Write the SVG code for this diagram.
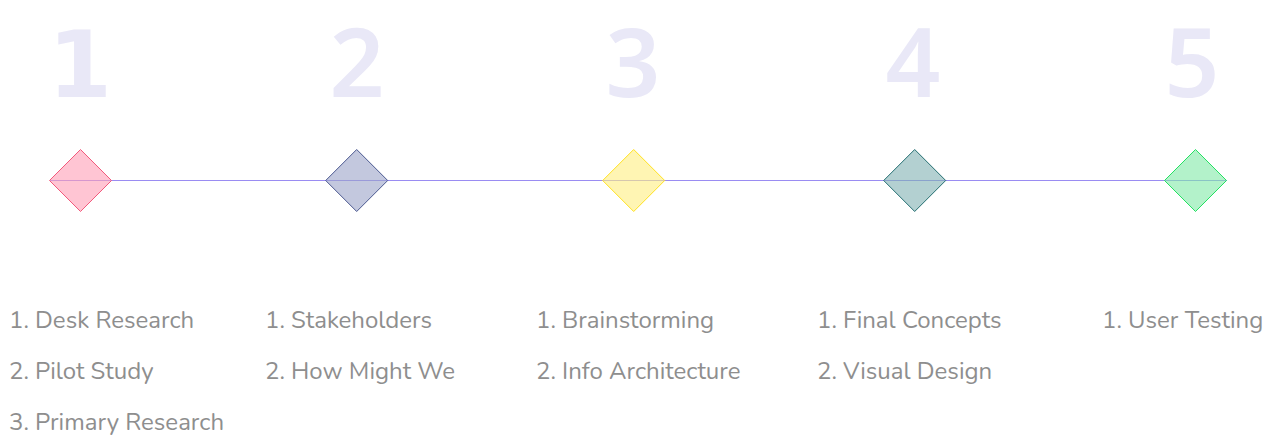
<svg xmlns="http://www.w3.org/2000/svg" width="1276" height="439" viewBox="0 0 1276 439">
<style>
.num{font-family:"Noto Sans","Open Sans",sans-serif;font-weight:600;font-size:96px;fill:#E9E8F7;text-anchor:middle}
.one{font-family:"DejaVu Sans","Noto Sans",sans-serif;font-weight:700;font-size:92px}
.lbl{font-family:"Nunito","Noto Sans","Open Sans",sans-serif;font-size:24px;fill:#8E8E8E}
.dia{stroke-width:1}
</style>
<rect width="1276" height="439" fill="#fff"/>
<g id="connectors">
<line x1="50" y1="180.5" x2="1227" y2="180.5" stroke="#9A8CF2" stroke-width="1"/>
</g>
<g id="stage1">
<text class="num one" x="80" y="97">1</text>
<path class="dia" d="M80.5 149.5 L111.5 180.5 L80.5 211.5 L49.5 180.5 Z" fill="#FF9FB6" fill-opacity="0.6" stroke="#F25A7C"/>
<text class="lbl" x="9" y="328">1. Desk Research</text>
<text class="lbl" x="9" y="379">2. Pilot Study</text>
<text class="lbl" x="9" y="430">3. Primary Research</text>
</g>
<g id="stage2">
<text class="num" x="357" y="97">2</text>
<path class="dia" d="M356.7 149.5 L387.7 180.5 L356.7 211.5 L325.7 180.5 Z" fill="#9BA3C8" fill-opacity="0.6" stroke="#4A5890"/>
<text class="lbl" x="265" y="328">1. Stakeholders</text>
<text class="lbl" x="265" y="379">2. How Might We</text>
</g>
<g id="stage3">
<text class="num" x="633" y="97">3</text>
<path class="dia" d="M633.7 149.5 L664.7 180.5 L633.7 211.5 L602.7 180.5 Z" fill="#FFEE80" fill-opacity="0.6" stroke="#FFE21F"/>
<text class="lbl" x="536" y="328">1. Brainstorming</text>
<text class="lbl" x="536" y="379">2. Info Architecture</text>
</g>
<g id="stage4">
<text class="num" x="913" y="97">4</text>
<path class="dia" d="M914.7 149.5 L945.7 180.5 L914.7 211.5 L883.7 180.5 Z" fill="#80B0B2" fill-opacity="0.6" stroke="#236E71"/>
<text class="lbl" x="817" y="328">1. Final Concepts</text>
<text class="lbl" x="817" y="379">2. Visual Design</text>
</g>
<g id="stage5">
<text class="num" x="1192" y="97">5</text>
<path class="dia" d="M1195.5 149.5 L1226.5 180.5 L1195.5 211.5 L1164.5 180.5 Z" fill="#80EAA6" fill-opacity="0.6" stroke="#24E262"/>
<text class="lbl" x="1102" y="328">1. User Testing</text>
</g>
</svg>
